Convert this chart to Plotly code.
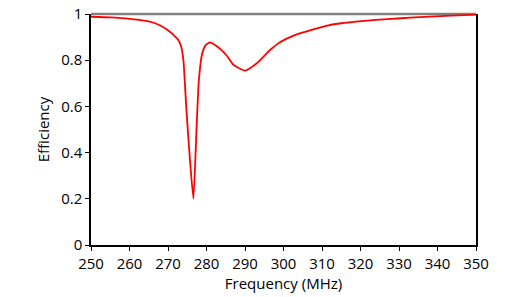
import plotly.graph_objects as go

freq = [250, 255, 260, 265.3, 268, 270.5, 272.0, 272.7, 273.4, 274.0, 274.8, 275.7, 276.6,
        277.4, 278.0, 278.9, 279.8, 280.9, 282.3, 283.9, 285.5, 287.0, 290.0,
        293.0, 296.5, 299, 301.7, 304, 307, 310.8, 315, 321, 327, 334, 342, 350]
eff = [0.988, 0.985, 0.979, 0.967, 0.95, 0.923, 0.90, 0.887, 0.86, 0.80, 0.58, 0.37, 0.20,
       0.50, 0.71, 0.83, 0.865, 0.877, 0.865, 0.844, 0.815, 0.78, 0.755,
       0.786, 0.844, 0.877, 0.90, 0.915, 0.93, 0.948, 0.96, 0.97, 0.978, 0.985, 0.992, 0.997]

x_ticks = [250, 260, 270, 280, 290, 300, 310, 320, 330, 340, 350]
y_ticks = [0, 0.2, 0.4, 0.6, 0.8, 1]
y_labels = ["0", "0.2", "0.4", "0.6", "0.8", "1"]

fig = go.Figure()
fig.add_trace(go.Scatter(x=freq, y=eff, mode="lines",
                         line=dict(color="#ff0000", width=1.8, shape="spline", smoothing=0.5),
                         showlegend=False, cliponaxis=False))

fig.add_shape(type="line", xref="paper", yref="paper", x0=0, x1=1, y0=1, y1=1,
              line=dict(color="#7f7f7f", width=2.5), layer="below")

font = dict(family="Open Sans, Noto Sans, sans-serif", size=15, color="#000")
fig.update_layout(
    width=529, height=297,
    margin=dict(l=91, r=53, t=14, b=52),
    paper_bgcolor="white", plot_bgcolor="white",
    font=font,
    xaxis=dict(range=[250, 350], tickvals=x_ticks, ticks="outside", ticklen=4,
               tickcolor="#000", showline=True, linecolor="#000", linewidth=1.5,
               showgrid=False, zeroline=False, automargin=False,
               title=dict(text="Frequency (MHz)", standoff=2, font=font),
               tickfont=font),
    yaxis=dict(range=[0, 1], tickvals=y_ticks, ticktext=y_labels, ticks="outside",
               ticklen=4, tickcolor="#000", showline=True, mirror=True,
               linecolor="#000", linewidth=1.5, showgrid=False, zeroline=False,
               automargin=False,
               title=dict(text="Efficiency", standoff=8, font=font),
               tickfont=font),
)
fig.write_html("out.html", config={"displayModeBar": False},
               post_script="document.body.style.margin='0';document.body.style.overflow='hidden';")
